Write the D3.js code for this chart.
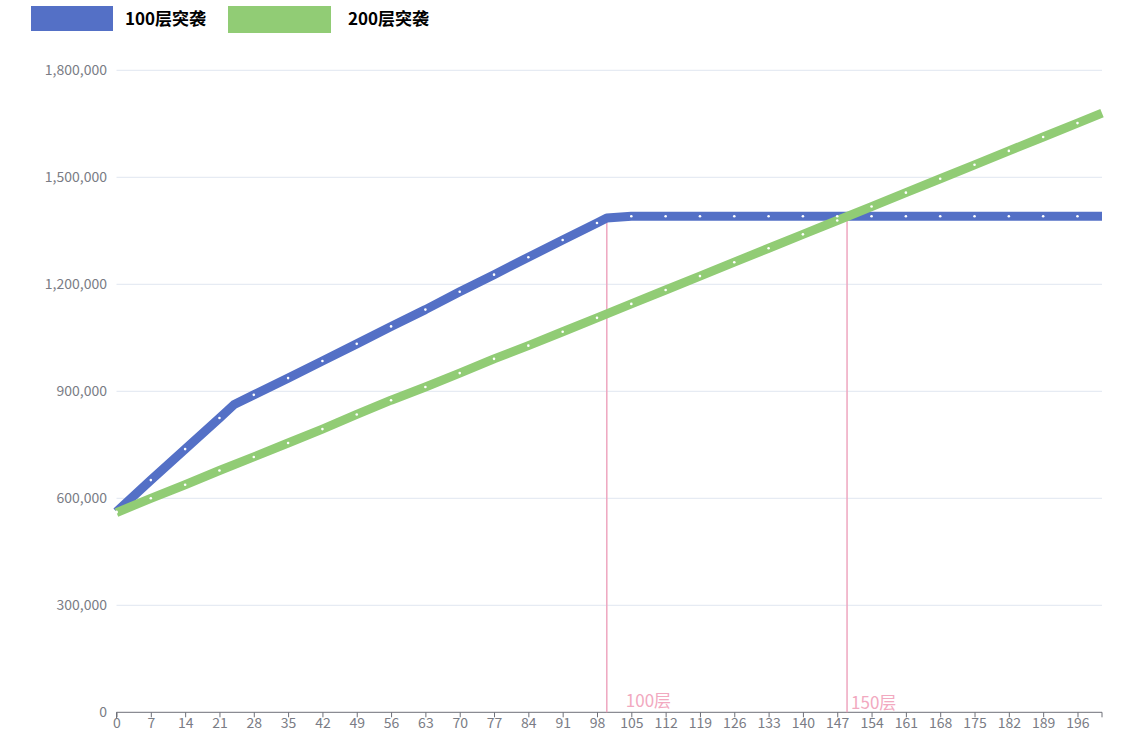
<!DOCTYPE html>
<html>
<head>
<meta charset="utf-8">
<script src="https://cdn.jsdelivr.net/npm/d3@7/dist/d3.min.js"></script>
<style>
  html, body { margin: 0; padding: 0; background: #fff; }
  svg { display: block; }
  text { font-family: "Microsoft YaHei", "Noto Sans CJK SC", "Noto Sans", sans-serif; }
</style>
</head>
<body>
<div id="chart"></div>
<script>
// ---------- data ----------
const seriesNames = ["100层突袭", "200层突袭"];
const seriesColors = ["#5470c6", "#91cc75"];
const lastFloor = 201;
const xTickLabels = [0,7,14,21,28,35,42,49,56,63,70,77,84,91,98,105,112,119,126,133,140,147,154,161,168,175,182,189,196];
const yTickValues = [0, 300000, 600000, 900000, 1200000, 1500000, 1800000];

// sampled floors (symbols shown every 7th floor)
const blueFloors = [0,7,14,21,24,28,35,42,49,56,63,70,77,84,91,98,100,105,112,119,126,133,140,147,154,161,168,175,182,189,196,201];
const blueValues = [562000,651000,738000,825000,863000,890000,937000,985000,1033000,1082000,1129000,1179000,1227000,1276000,1324000,1372000,1386000,1391000,1391000,1391000,1391000,1391000,1391000,1391000,1391000,1391000,1391000,1391000,1391000,1391000,1391000,1391000];

const greenFloors = [0,7,14,21,28,35,42,49,56,63,70,77,84,91,98,105,112,119,126,133,140,147,154,161,168,175,182,189,196,201];
const greenValues = [560000,600000,638000,678000,716000,755000,794000,835000,875000,912000,951000,991000,1028000,1067000,1106000,1145000,1184000,1223000,1262000,1301000,1340000,1379000,1418000,1457000,1496000,1535000,1574000,1613000,1652000,1680000];

const markFloors = [100, 149];
const markLabels = ["100层", "150层"];
const markTops = [1386000, 1391000];

// ---------- layout ----------
const W = 1124, H = 740;
const plot = { left: 116.5, right: 1102, top: 70.3, bottom: 712.3 };

const svg = d3.select("#chart").append("svg").attr("width", W).attr("height", H);

const x = d3.scaleLinear().domain([0, lastFloor]).range([plot.left, plot.right]);
const y = d3.scaleLinear().domain([0, 1800000]).range([plot.bottom, plot.top]);

// grid lines
svg.append("g").selectAll("line")
  .data(yTickValues.filter(v => v > 0))
  .join("line")
  .attr("x1", plot.left).attr("x2", plot.right)
  .attr("y1", d => y(d)).attr("y2", d => y(d))
  .attr("stroke", "#e0e6f1").attr("stroke-width", 1);

// y axis labels
const fmt = d3.format(",");
svg.append("g").selectAll("text")
  .data(yTickValues)
  .join("text")
  .attr("x", 107).attr("y", d => y(d))
  .attr("dy", "0.35em")
  .attr("text-anchor", "end")
  .attr("fill", "#7a7c85")
  .attr("font-size", 14)
  .text(d => fmt(d));

// x axis
const xAxis = d3.axisBottom(x)
  .tickValues(xTickLabels)
  .tickSize(5)
  .tickSizeOuter(0)
  .tickFormat(d => d);
const gx = svg.append("g").attr("transform", `translate(0,${plot.bottom})`).call(xAxis);
gx.select(".domain").attr("stroke", "#6e7079").attr("d", `M${plot.left},0.5V5.5V0H${plot.right}V5`);
gx.selectAll(".tick line").attr("stroke", "#6e7079");
gx.selectAll(".tick text").attr("fill", "#7a7c85").attr("font-size", 14)
  .attr("font-family", "\"Microsoft YaHei\", \"Noto Sans CJK SC\", sans-serif")
  .attr("y", 6);

// mark lines
const markG = svg.append("g");
markG.selectAll("line")
  .data(markFloors)
  .join("line")
  .attr("x1", d => x(d)).attr("x2", d => x(d))
  .attr("y1", plot.bottom).attr("y2", (d, i) => y(markTops[i]))
  .attr("stroke", "#eea6bf").attr("stroke-width", 1.5);
markG.selectAll("text")
  .data(markFloors)
  .join("text")
  .attr("x", (d, i) => x(d) + (i === 0 ? 19 : 4))
  .attr("y", (d, i) => i === 0 ? 707 : 709)
  .attr("fill", "#f2a9c0")
  .attr("font-size", 17)
  .text((d, i) => markLabels[i]);

// series lines
const line = d3.line().x(d => x(d[0])).y(d => y(d[1]));
const blueData = blueFloors.map((f, i) => [f, blueValues[i]]);
const greenData = greenFloors.map((f, i) => [f, greenValues[i]]);
const all = [blueData, greenData];

all.forEach((data, si) => {
  svg.append("path")
    .datum(data)
    .attr("d", line)
    .attr("fill", "none")
    .attr("stroke", seriesColors[si])
    .attr("stroke-width", 9)
    .attr("stroke-linejoin", "round")
    .attr("stroke-linecap", "butt");
});

// symbols (every 7th floor)
all.forEach((data, si) => {
  svg.append("g").selectAll("circle")
    .data(data.filter(d => d[0] % 7 === 0))
    .join("circle")
    .attr("cx", d => x(d[0]))
    .attr("cy", d => y(d[1]))
    .attr("r", 1.3)
    .attr("fill", "#ffffff");
});

// legend
const legendItems = [
  { x: 31, w: 82, h: 25, tx: 125 },
  { x: 228, w: 103, h: 27, tx: 348 }
];
const lg = svg.append("g");
legendItems.forEach((it, i) => {
  lg.append("rect").attr("x", it.x).attr("y", 6).attr("width", it.w).attr("height", it.h)
    .attr("fill", seriesColors[i]);
  lg.append("text").attr("x", it.tx).attr("y", 25)
    .attr("font-size", 17).attr("font-weight", "bold").attr("fill", "#000")
    .text(seriesNames[i]);
});
</script>
</body>
</html>
